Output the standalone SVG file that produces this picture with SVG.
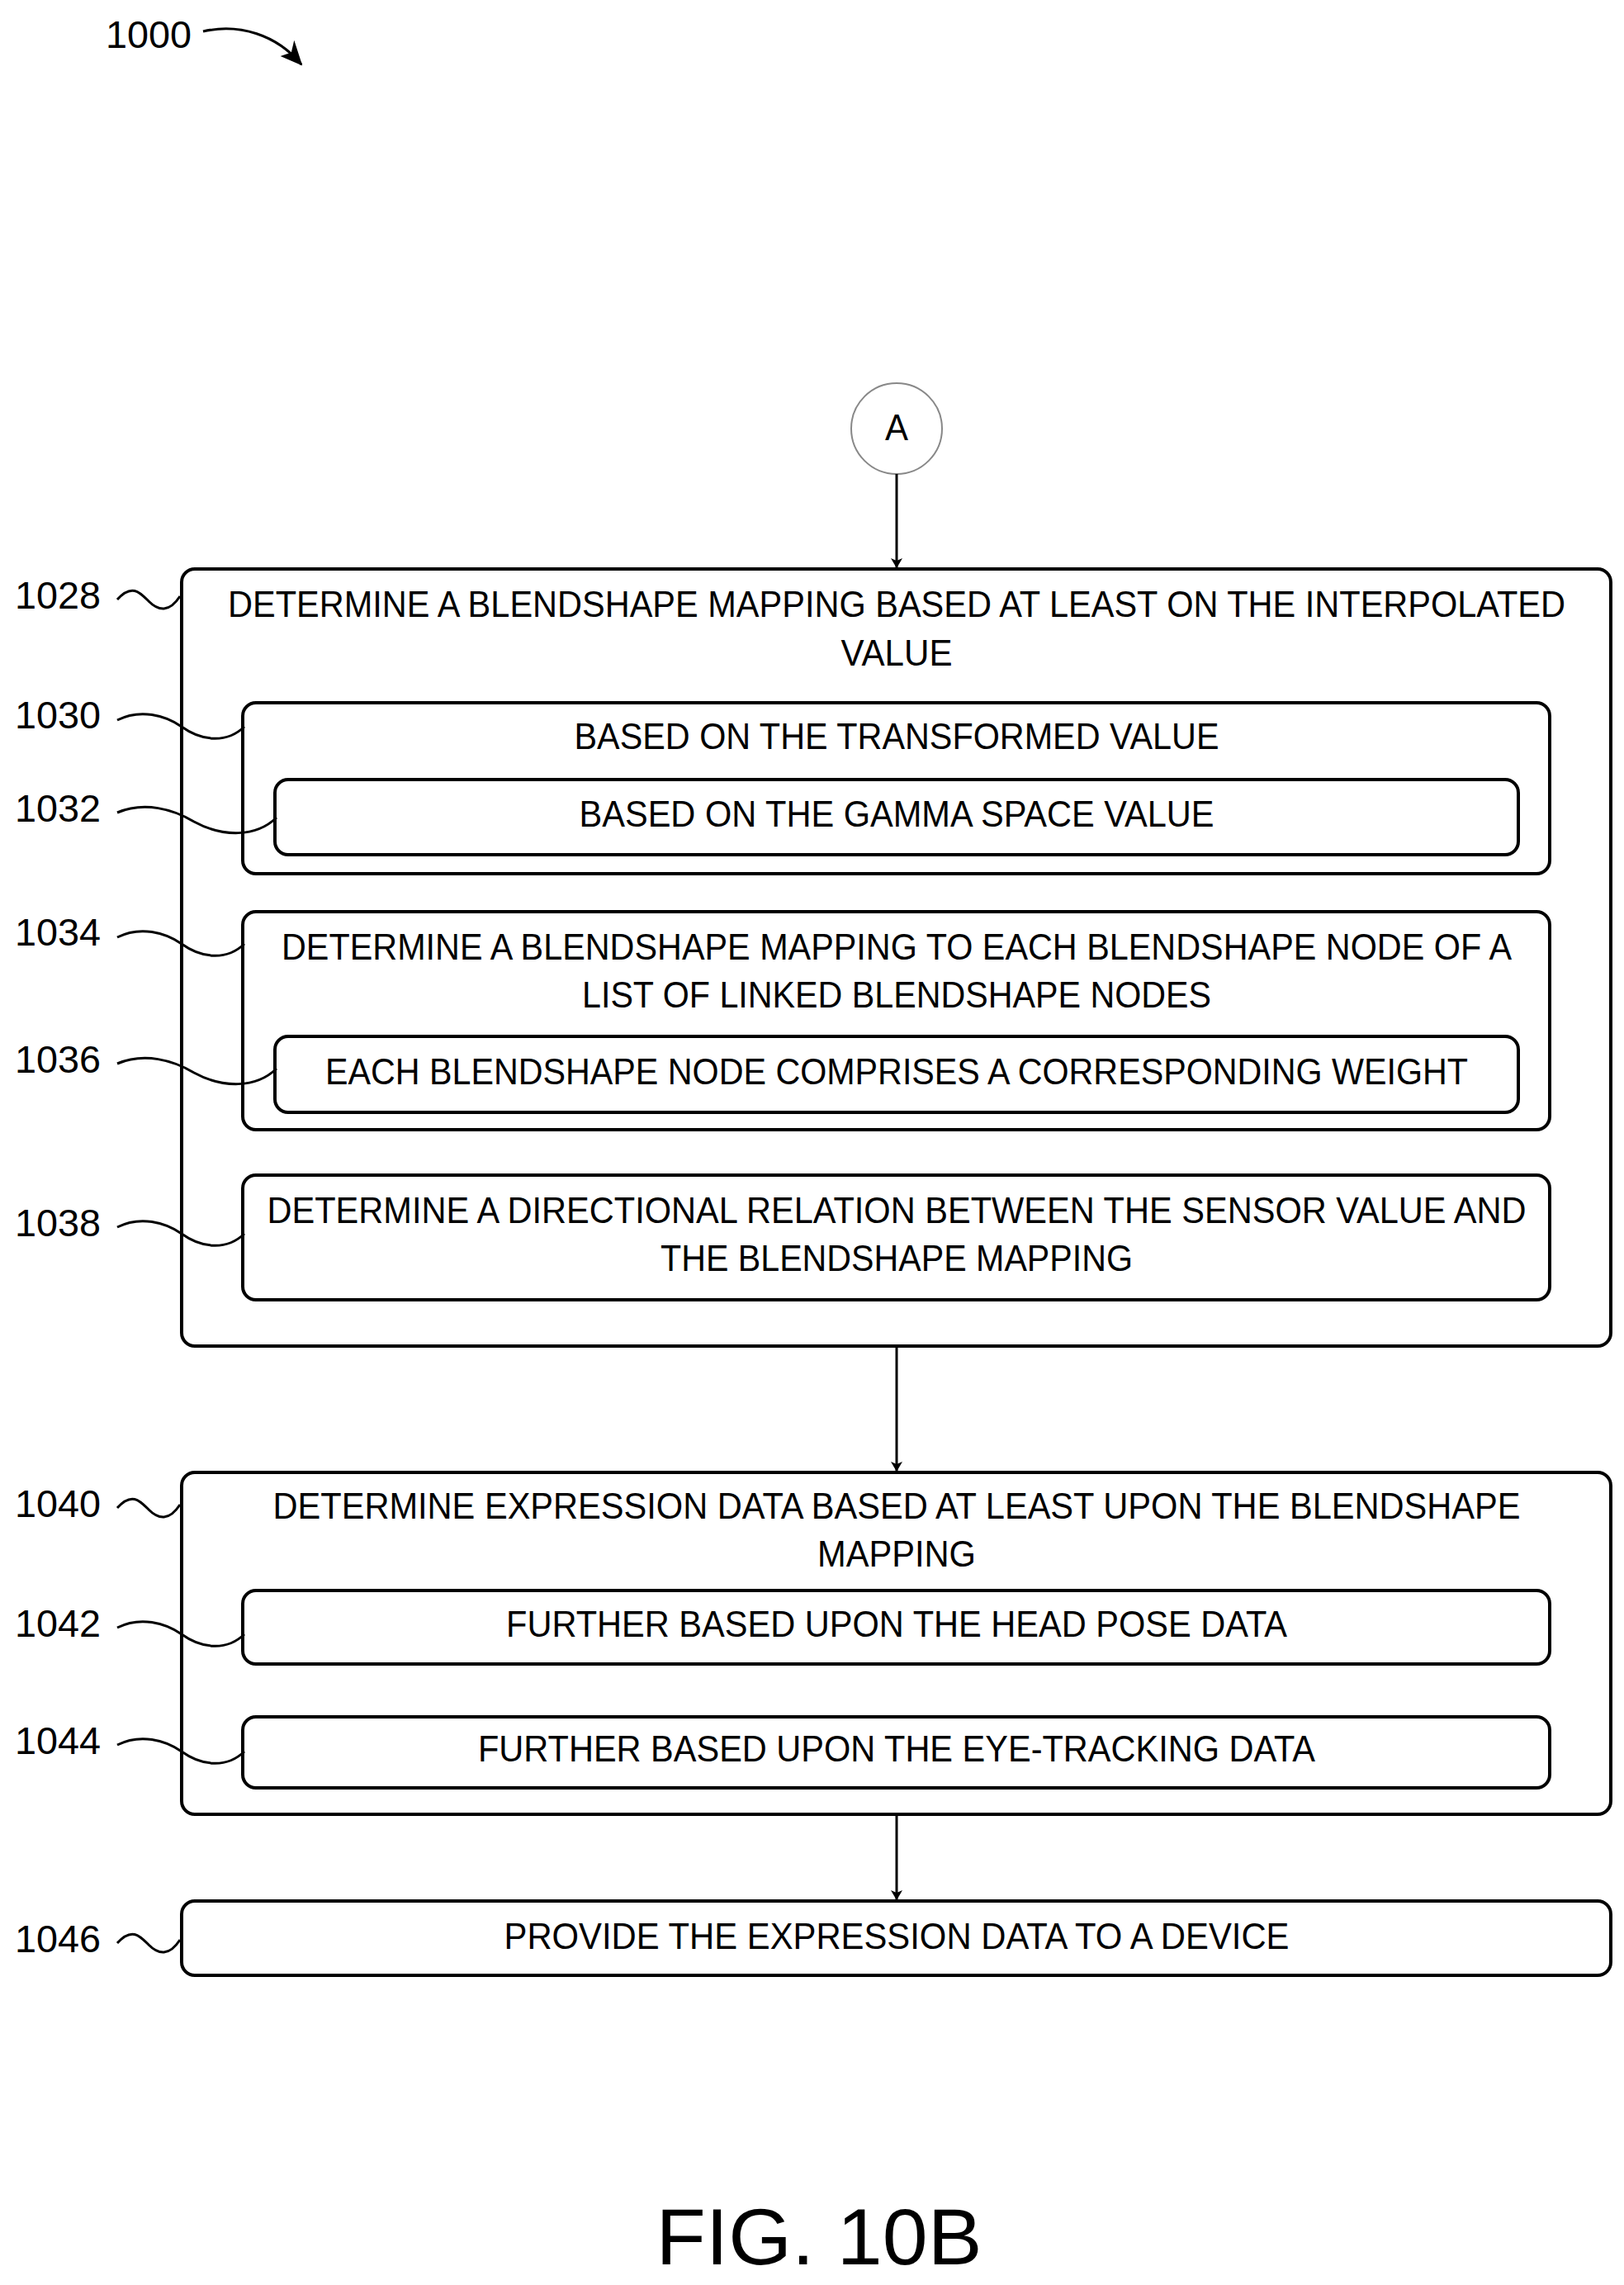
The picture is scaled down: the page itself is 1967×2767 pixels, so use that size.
<svg xmlns="http://www.w3.org/2000/svg" width="1967" height="2767" viewBox="0 0 1967 2767">
<defs>
<marker id="ah" markerWidth="12" markerHeight="14" refX="11" refY="7" orient="auto" markerUnits="userSpaceOnUse" viewBox="0 0 12 14">
<path d="M0,0 L12,7 L0,14 L3,7 Z" fill="#000"/>
</marker>
<marker id="ah2" markerWidth="30" markerHeight="30" refX="28" refY="15" orient="auto" markerUnits="userSpaceOnUse" viewBox="0 0 30 30">
<path d="M0,3 L30,15 L4,28 L9,15 Z" fill="#000"/>
</marker>
</defs>
<style>
.b{fill:#fff;stroke:#000;stroke-width:4}
.t{font-family:"Liberation Sans",Arial,sans-serif;font-size:44px;text-anchor:middle;fill:#000}
.l{font-family:"Liberation Sans",Arial,sans-serif;font-size:46px;fill:#000}
.s{fill:none;stroke:#000;stroke-width:3}
.c{fill:none;stroke:#000;stroke-width:3}
</style>
<rect width="1967" height="2767" fill="#fff"/>
<g id="ref1000">
<text class="l" x="128" y="58" textLength="104" lengthAdjust="spacingAndGlyphs">1000</text>
<path class="s" d="M246,38 C290,28 335,42 365,78" marker-end="url(#ah2)"/>
</g>
<g id="connA">
<circle cx="1086" cy="519" r="55" fill="#fff" stroke="#888" stroke-width="2"/>
<text class="t" x="1086" y="533" textLength="28" lengthAdjust="spacingAndGlyphs">A</text>
</g>
<g id="n1028">
<rect class="b" x="220" y="689" width="1731" height="941" rx="16"/>
<text class="t" x="1086" y="747" textLength="1620" lengthAdjust="spacingAndGlyphs">DETERMINE A BLENDSHAPE MAPPING BASED AT LEAST ON THE INTERPOLATED</text>
<text class="t" x="1086" y="806" textLength="135" lengthAdjust="spacingAndGlyphs">VALUE</text>
<text class="l" x="18" y="737" textLength="104" lengthAdjust="spacingAndGlyphs">1028</text>
<path class="s" d="M142,726 C160,706 170,718 180,728 C192,740 205,742 218,722"/>
</g>
<g id="n1030">
<rect class="b" x="294" y="851" width="1583" height="207" rx="16"/>
<text class="t" x="1086" y="907" textLength="781" lengthAdjust="spacingAndGlyphs">BASED ON THE TRANSFORMED VALUE</text>
<text class="l" x="18" y="882" textLength="104" lengthAdjust="spacingAndGlyphs">1030</text>
<path class="s" d="M142,872 C170,858 200,866 220,880 C245,898 275,900 296,880"/>
</g>
<g id="n1032">
<rect class="b" x="333" y="944" width="1506" height="91" rx="16"/>
<text class="t" x="1086" y="1001" textLength="769" lengthAdjust="spacingAndGlyphs">BASED ON THE GAMMA SPACE VALUE</text>
<text class="l" x="18" y="995" textLength="104" lengthAdjust="spacingAndGlyphs">1032</text>
<path class="s" d="M142,984 C175,970 210,980 235,995 C270,1014 310,1014 335,990"/>
</g>
<g id="n1034">
<rect class="b" x="294" y="1104" width="1583" height="264" rx="16"/>
<text class="t" x="1086" y="1162" textLength="1490" lengthAdjust="spacingAndGlyphs">DETERMINE A BLENDSHAPE MAPPING TO EACH BLENDSHAPE NODE OF A</text>
<text class="t" x="1086" y="1220" textLength="762" lengthAdjust="spacingAndGlyphs">LIST OF LINKED BLENDSHAPE NODES</text>
<text class="l" x="18" y="1145" textLength="104" lengthAdjust="spacingAndGlyphs">1034</text>
<path class="s" d="M142,1135 C170,1121 200,1129 220,1143 C245,1161 275,1163 296,1143"/>
</g>
<g id="n1036">
<rect class="b" x="333" y="1255" width="1506" height="92" rx="16"/>
<text class="t" x="1086" y="1313" textLength="1384" lengthAdjust="spacingAndGlyphs">EACH BLENDSHAPE NODE COMPRISES A CORRESPONDING WEIGHT</text>
<text class="l" x="18" y="1299" textLength="104" lengthAdjust="spacingAndGlyphs">1036</text>
<path class="s" d="M142,1288 C175,1274 210,1284 235,1299 C270,1318 310,1318 335,1294"/>
</g>
<g id="n1038">
<rect class="b" x="294" y="1423" width="1583" height="151" rx="16"/>
<text class="t" x="1086" y="1481" textLength="1525" lengthAdjust="spacingAndGlyphs">DETERMINE A DIRECTIONAL RELATION BETWEEN THE SENSOR VALUE AND</text>
<text class="t" x="1086" y="1539" textLength="572" lengthAdjust="spacingAndGlyphs">THE BLENDSHAPE MAPPING</text>
<text class="l" x="18" y="1497" textLength="104" lengthAdjust="spacingAndGlyphs">1038</text>
<path class="s" d="M142,1486 C170,1472 200,1480 220,1494 C245,1512 275,1514 296,1494"/>
</g>
<g id="n1040">
<rect class="b" x="220" y="1783" width="1731" height="414" rx="16"/>
<text class="t" x="1086" y="1839" textLength="1511" lengthAdjust="spacingAndGlyphs">DETERMINE EXPRESSION DATA BASED AT LEAST UPON THE BLENDSHAPE</text>
<text class="t" x="1086" y="1897" textLength="192" lengthAdjust="spacingAndGlyphs">MAPPING</text>
<text class="l" x="18" y="1837" textLength="104" lengthAdjust="spacingAndGlyphs">1040</text>
<path class="s" d="M142,1826 C160,1806 170,1818 180,1828 C192,1840 205,1842 218,1822"/>
</g>
<g id="n1042">
<rect class="b" x="294" y="1926" width="1583" height="89" rx="16"/>
<text class="t" x="1086" y="1982" textLength="946" lengthAdjust="spacingAndGlyphs">FURTHER BASED UPON THE HEAD POSE DATA</text>
<text class="l" x="18" y="1982" textLength="104" lengthAdjust="spacingAndGlyphs">1042</text>
<path class="s" d="M142,1971 C170,1957 200,1965 220,1979 C245,1997 275,1999 296,1979"/>
</g>
<g id="n1044">
<rect class="b" x="294" y="2079" width="1583" height="86" rx="16"/>
<text class="t" x="1086" y="2133" textLength="1014" lengthAdjust="spacingAndGlyphs">FURTHER BASED UPON THE EYE-TRACKING DATA</text>
<text class="l" x="18" y="2124" textLength="104" lengthAdjust="spacingAndGlyphs">1044</text>
<path class="s" d="M142,2113 C170,2099 200,2107 220,2121 C245,2139 275,2141 296,2121"/>
</g>
<g id="n1046">
<rect class="b" x="220" y="2302" width="1731" height="90" rx="16"/>
<text class="t" x="1086" y="2360" textLength="951" lengthAdjust="spacingAndGlyphs">PROVIDE THE EXPRESSION DATA TO A DEVICE</text>
<text class="l" x="18" y="2364" textLength="104" lengthAdjust="spacingAndGlyphs">1046</text>
<path class="s" d="M142,2353 C160,2333 170,2345 180,2355 C192,2367 205,2369 218,2349"/>
</g>
<g id="connectors">
<line class="c" x1="1086" y1="574" x2="1086" y2="687" marker-end="url(#ah)"/>
<line class="c" x1="1086" y1="1632" x2="1086" y2="1781" marker-end="url(#ah)"/>
<line class="c" x1="1086" y1="2199" x2="1086" y2="2300" marker-end="url(#ah)"/>
</g>
<text x="992" y="2742" font-family="Liberation Sans,Arial,sans-serif" font-size="96" text-anchor="middle" textLength="395" lengthAdjust="spacingAndGlyphs">FIG. 10B</text>
</svg>
